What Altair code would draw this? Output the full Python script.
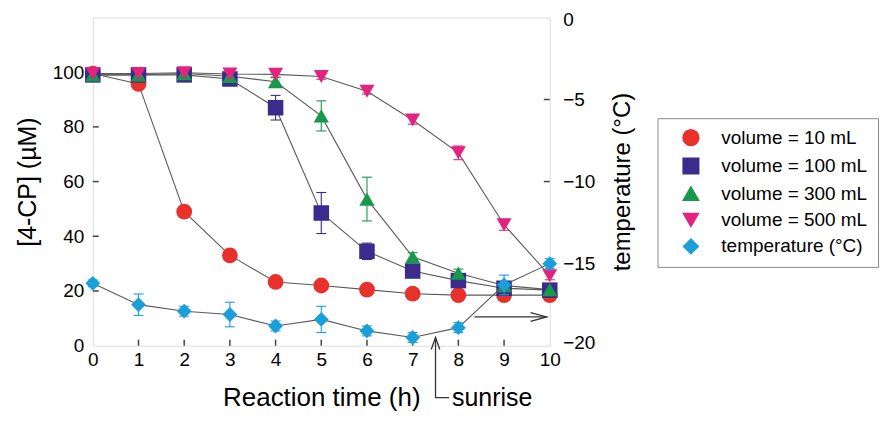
import altair as alt
import pandas as pd

# ---------------- data ----------------
times = [0, 1, 2, 3, 4, 5, 6, 7, 8, 9, 10]
series_names = ["volume = 10 mL", "volume = 100 mL", "volume = 300 mL",
                "volume = 500 mL", "temperature (°C)"]
series_colors = ["#e8312b", "#3a2b8c", "#16994b", "#e2237f", "#1a9fda"]
series_shapes = ["circle", "square", "triangle-up", "triangle-down", "diamond"]

conc_10 = [99.5, 95.7, 49.0, 33.0, 23.3, 22.0, 20.5, 19.0, 18.5, 18.5, 18.5]
conc_100 = [99.0, 99.0, 99.0, 97.5, 87.0, 48.5, 34.5, 27.3, 23.8, 21.0, 20.3]
conc_300 = [99.0, 99.0, 99.5, 98.5, 96.5, 84.0, 53.6, 32.5, 26.5, 22.0, 20.5]
conc_500 = [99.5, 99.5, 99.8, 99.3, 99.2, 98.4, 93.0, 82.5, 70.5, 44.2, 25.6]
err_10 = [0.5, 1.0, 1.0, 1.0, 1.0, 1.0, 0.8, 0.8, 0.8, 1.0, 1.0]
err_100 = [1.0, 1.5, 1.5, 1.0, 4.5, 7.5, 3.0, 1.5, 1.5, 1.0, 1.0]
err_300 = [1.0, 1.0, 1.0, 1.0, 1.5, 5.5, 8.0, 1.5, 1.5, 1.0, 1.0]
err_500 = [1.0, 1.0, 1.0, 1.0, 1.0, 1.0, 1.0, 1.5, 2.5, 2.0, 1.5]

temperature = [-16.2, -17.5, -17.9, -18.1, -18.8, -18.4, -19.1, -19.5, -18.9, -16.3, -15.0]
temperature_err = [0.2, 0.65, 0.3, 0.75, 0.3, 0.8, 0.3, 0.3, 0.3, 0.6, 0.3]

x_ticks = times
left_ticks = [0, 20, 40, 60, 80, 100]
right_ticks = [-20, -15, -10, -5, 0]

# annotations (data units of the left axis)
sunrise_x = [7.5, 7.5, 7.8]
sunrise_y = [3.0, -19.0, -19.0]
sunrise_text = ["sunrise"]
sunrise_text_x = [7.86]
sunrise_text_y = [-19.3]
temp_arrow_x = [8.35, 9.93]
temp_arrow_y = [10.5, 10.5]

# ---------------- tables ----------------
conc_df = pd.DataFrame([
    {"series": n, "time": t, "value": v, "lo": v - e, "hi": v + e}
    for n, vals, errs in zip(series_names[:4],
                             [conc_10, conc_100, conc_300, conc_500],
                             [err_10, err_100, err_300, err_500])
    for t, v, e in zip(times, vals, errs)
])
temp_df = pd.DataFrame([
    {"series": series_names[4], "time": t, "value": v, "lo": v - e, "hi": v + e}
    for t, v, e in zip(times, temperature, temperature_err)
])
for _df in (conc_df, temp_df):
    _df["shape_key"] = _df["series"]
    _df["size_key"] = _df["series"]

xtick_df = pd.DataFrame({"x": x_ticks[1:-1], "y0": [0] * 9, "y1": [2.2] * 9})
ltick_df = pd.DataFrame({"y": left_ticks[1:], "x0": [0] * 5, "x1": [0.13] * 5})
rtick_df = pd.DataFrame({"y": right_ticks[1:-1], "x0": [9.87] * 3, "x1": [10] * 3})
sun_df = pd.DataFrame({"i": [0, 1, 2], "x": sunrise_x, "y": sunrise_y})
sun_head_df = pd.DataFrame({"x": sunrise_x[:1], "y": sunrise_y[:1]})
sun_text_df = pd.DataFrame({"x": sunrise_text_x, "y": sunrise_text_y, "t": sunrise_text})
arr_df = pd.DataFrame({"x": temp_arrow_x, "y": temp_arrow_y})
arr_head_df = pd.DataFrame({"x": temp_arrow_x[-1:], "y": temp_arrow_y[-1:]})

# ---------------- styling ----------------
FONT = "Liberation Sans"
LINE_COL = "#5a5a5a"
TICK_COL = "#444444"

xscale = alt.Scale(domain=[0, 10], nice=False, zero=False)
lscale = alt.Scale(domain=[0, 120], nice=False, zero=False)
rscale = alt.Scale(domain=[-20, 0], nice=False, zero=False)

xaxis = alt.Axis(title="Reaction time (h)", values=x_ticks, ticks=False, domain=False,
                 grid=False, labelPadding=5, labelFontSize=19, labelFlush=False,
                 titleFontSize=26, titlePadding=15, titleFontWeight="normal",
                 labelColor="black", titleColor="black", labelFont=FONT, titleFont=FONT)
laxis = alt.Axis(title="[4-CP] (µM)", values=left_ticks, ticks=False, domain=False,
                 grid=False, labelPadding=9, labelFontSize=19, titleFontSize=25,
                 titlePadding=12, titleFontWeight="normal", labelColor="black",
                 titleColor="black", labelFont=FONT, titleFont=FONT)
raxis = alt.Axis(title="temperature (°C)", orient="right", values=right_ticks, ticks=False,
                 domain=False, grid=False, labelPadding=13, labelFontSize=19,
                 labelFlush=True, labelFlushOffset=7,
                 titleFontSize=24, titlePadding=40, titleAngle=270,
                 titleFontWeight="normal",
                 labelColor="black", titleColor="black", labelFont=FONT, titleFont=FONT)

# legend symbols: marker with a thin line through it (filled bars so they show)
line_seg = {"circle": 0.95, "square": 0.85, "triangle-up": 0.55,
            "triangle-down": 0.55, "diamond": 0.8}
shape_paths = {
    "circle": "M-1,0A1,1 0 1,0 1,0A1,1 0 1,0 -1,0Z",
    "square": "M-0.85,-0.85L0.85,-0.85L0.85,0.85L-0.85,0.85Z",
    "triangle-up": "M0,-1L1,0.8L-1,0.8Z",
    "triangle-down": "M0,1L1,-0.8L-1,-0.8Z",
    "diamond": "M0,-1.05L0.85,0L0,1.05L-0.85,0Z",
}


def bars(a):
    h = 0.07
    return ("M-3,-%g L-%g,-%g L-%g,%g L-3,%g Z" % (h, a, h, a, h, h) +
            "M%g,-%g L3,-%g L3,%g L%g,%g Z" % (a, h, h, h, a, h))


legend_paths = [shape_paths[s] + bars(line_seg[s]) for s in series_shapes]
expr = " : ".join("datum.value === '%s' ? '%s'" % (n, p)
                  for n, p in zip(series_names[:-1], legend_paths[:-1]))
expr += " : '%s'" % legend_paths[-1]

legend = alt.Legend(
    title=None, orient="none", legendX=566, legendY=101,
    strokeColor="#8a8a8a", padding=10, labelFontSize=19, labelFont=FONT,
    labelColor="black", symbolSize=256, symbolOffset=14, labelOffset=21,
    rowPadding=5.5, symbolType=alt.ExprRef(expr=expr), symbolOpacity=1,
)
cscale = alt.Scale(domain=series_names, range=series_colors)
color_enc = alt.Color("series:N", scale=cscale, legend=legend)
shape_enc = alt.Shape("shape_key:N", scale=alt.Scale(domain=series_names, range=series_shapes),
                      legend=None)
size_enc = alt.Size("size_key:N", scale=alt.Scale(domain=series_names,
                                                  range=[250, 220, 260, 260, 320]),
                    legend=None)

up_chevron = "M-0.36,1L0,0L0.36,1"
right_chevron = "M-1,-0.27L0,0L-1,0.27"

# ---------------- left (concentration) group ----------------
base_c = alt.Chart(conc_df)
c_lines = base_c.mark_line(color=LINE_COL, strokeWidth=1.1).encode(
    x=alt.X("time:Q", scale=xscale, axis=xaxis),
    y=alt.Y("value:Q", scale=lscale, axis=laxis),
    detail="series:N",
)
c_err = base_c.mark_rule(strokeWidth=1.1).encode(
    x=alt.X("time:Q", scale=xscale), y=alt.Y("lo:Q", scale=lscale), y2="hi:Q",
    color=color_enc)
c_cap_lo = base_c.mark_tick(orient="horizontal", size=10, thickness=1.1, opacity=1).encode(
    x=alt.X("time:Q", scale=xscale), y=alt.Y("lo:Q", scale=lscale), color=color_enc)
c_cap_hi = base_c.mark_tick(orient="horizontal", size=10, thickness=1.1, opacity=1).encode(
    x=alt.X("time:Q", scale=xscale), y=alt.Y("hi:Q", scale=lscale), color=color_enc)
c_points = base_c.mark_point(filled=True, opacity=1).encode(
    x=alt.X("time:Q", scale=xscale), y=alt.Y("value:Q", scale=lscale),
    color=color_enc, shape=shape_enc, size=size_enc)

xticks_l = alt.Chart(xtick_df).mark_rule(color=TICK_COL, strokeWidth=1.5).encode(
    x=alt.X("x:Q", scale=xscale), y=alt.Y("y0:Q", scale=lscale), y2="y1:Q")
lticks_l = alt.Chart(ltick_df).mark_rule(color=TICK_COL, strokeWidth=1.5).encode(
    x=alt.X("x0:Q", scale=xscale), x2="x1:Q", y=alt.Y("y:Q", scale=lscale))

sun_line = alt.Chart(sun_df).mark_line(color="#333333", strokeWidth=1.3).encode(
    x=alt.X("x:Q", scale=xscale), y=alt.Y("y:Q", scale=lscale), order="i:Q")
sun_head = alt.Chart(sun_head_df).mark_point(shape=up_chevron, size=576, filled=False,
                                             color="#333333", strokeWidth=1.3, opacity=1).encode(
    x=alt.X("x:Q", scale=xscale), y=alt.Y("y:Q", scale=lscale))
sun_text = alt.Chart(sun_text_df).mark_text(align="left", baseline="middle", fontSize=25,
                                            font=FONT, color="black").encode(
    x=alt.X("x:Q", scale=xscale), y=alt.Y("y:Q", scale=lscale), text="t:N")
arr_line = alt.Chart(arr_df).mark_line(color="#333333", strokeWidth=1.3).encode(
    x=alt.X("x:Q", scale=xscale), y=alt.Y("y:Q", scale=lscale))
arr_head = alt.Chart(arr_head_df).mark_point(shape=right_chevron, size=1024, filled=False,
                                             color="#333333", strokeWidth=1.3, opacity=1).encode(
    x=alt.X("x:Q", scale=xscale), y=alt.Y("y:Q", scale=lscale))

left = alt.layer(c_lines, xticks_l, lticks_l, c_err, c_cap_lo, c_cap_hi, c_points,
                 sun_line, sun_head, sun_text, arr_line, arr_head)

# ---------------- right (temperature) group ----------------
base_t = alt.Chart(temp_df)
t_line = base_t.mark_line(color=LINE_COL, strokeWidth=1.1).encode(
    x=alt.X("time:Q", scale=xscale),
    y=alt.Y("value:Q", scale=rscale, axis=raxis))
rticks = alt.Chart(rtick_df).mark_rule(color=TICK_COL, strokeWidth=1.5).encode(
    x=alt.X("x0:Q", scale=xscale), x2="x1:Q", y=alt.Y("y:Q", scale=rscale))
t_err = base_t.mark_rule(strokeWidth=1.1).encode(
    x=alt.X("time:Q", scale=xscale), y=alt.Y("lo:Q", scale=rscale), y2="hi:Q",
    color=color_enc)
t_cap_lo = base_t.mark_tick(orient="horizontal", size=10, thickness=1.1, opacity=1).encode(
    x=alt.X("time:Q", scale=xscale), y=alt.Y("lo:Q", scale=rscale), color=color_enc)
t_cap_hi = base_t.mark_tick(orient="horizontal", size=10, thickness=1.1, opacity=1).encode(
    x=alt.X("time:Q", scale=xscale), y=alt.Y("hi:Q", scale=rscale), color=color_enc)
t_points = base_t.mark_point(filled=True, opacity=1).encode(
    x=alt.X("time:Q", scale=xscale), y=alt.Y("value:Q", scale=rscale),
    color=color_enc, shape=shape_enc, size=size_enc)

right = alt.layer(t_line, rticks, t_err, t_cap_lo, t_cap_hi, t_points)

chart = (
    alt.layer(left, right)
    .resolve_scale(y="independent")
    .properties(width=458, height=329,
                padding={"left": 7, "top": 2, "right": 0, "bottom": 0},
                background="white")
    .configure_view(stroke="#858585", strokeWidth=1.8)
    .configure(font=FONT)
)

chart.save("out.html", embed_options={"renderer": "svg", "actions": False})
